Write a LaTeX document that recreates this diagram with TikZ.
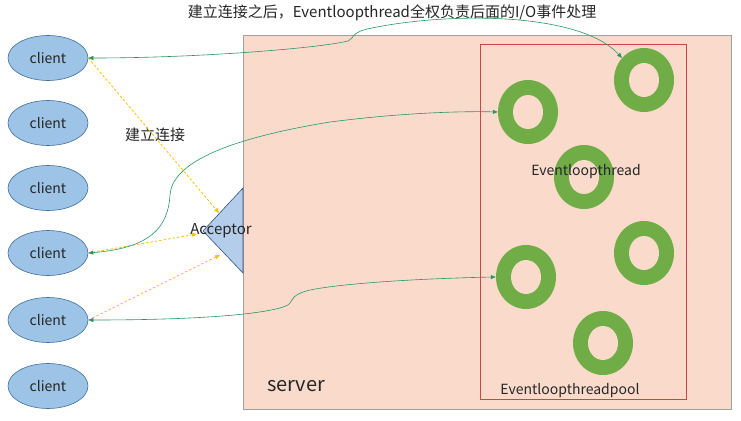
\documentclass[tikz,border=0pt]{standalone}
\usepackage{fontspec}
\setmainfont{Noto Sans CJK SC}
\usetikzlibrary{arrows.meta,shapes.geometric}
\definecolor{clientfill}{RGB}{157,195,230}
\definecolor{clientdraw}{RGB}{65,113,156}
\definecolor{serverfill}{RGB}{250,219,203}
\definecolor{serverdraw}{RGB}{160,160,160}
\definecolor{poolred}{RGB}{205,70,70}
\definecolor{ringgreen}{RGB}{112,173,71}
\definecolor{linkgreen}{RGB}{40,150,100}
\definecolor{dashyellow}{RGB}{255,192,0}
\definecolor{accfill}{RGB}{180,205,235}
\definecolor{accdraw}{RGB}{50,80,130}
\tikzset{
  client/.style={ellipse,draw=clientdraw,fill=clientfill,line width=0.6pt,minimum width=80pt,minimum height=45pt,inner sep=0pt,font=\fontsize{14pt}{16pt}\selectfont,text=black!85},
  ring/.style={ellipse,fill=ringgreen,minimum width=60pt,minimum height=64pt,inner sep=0pt,
    path picture={\fill[serverfill] (path picture bounding box.center) ellipse (15pt and 17pt);}},
  greenlink/.style={draw=linkgreen,line width=0.6pt,{Triangle[length=5pt,width=4pt]}-{Triangle[length=5pt,width=4pt]}},
  yellowlink/.style={draw=dashyellow,line width=0.8pt,dash pattern=on 2.5pt off 2pt,-{Triangle[length=5pt,width=4pt]}},
  lbl/.style={inner sep=0pt,font=\fontsize{14pt}{16pt}\selectfont,text=black!85}
}
\begin{document}
\begin{tikzpicture}[x=1pt,y=-1pt]
\useasboundingbox (0,0) rectangle (741,420);
\fill[white] (0,0) rectangle (741,420);
% server
\node[draw=serverdraw,fill=serverfill,line width=0.8pt,minimum width=488pt,minimum height=374pt,inner sep=0pt] (server) at (487,222) {};
\node[inner sep=0pt,font=\fontsize{20pt}{22pt}\selectfont,text=black!85] (serverlbl) at (296,386) {server};
% pool
\node[draw=poolred,line width=0.7pt,minimum width=206pt,minimum height=355pt,inner sep=0pt] (pool) at (583,221.5) {};
% rings
\node[ring] (r1) at (644,80) {};
\node[ring] (r2) at (528,112) {};
\node[ring] (r3) at (584,177) {};
\node[ring] (r4) at (644,253) {};
\node[ring] (r5) at (526,277) {};
\node[ring] (r6) at (603,343) {};
\node[lbl] (elt) at (586,172) {Eventloopthread};
\node[lbl] (eltp) at (570,391) {Eventloopthreadpool};
% acceptor
\draw[draw=accdraw,fill=accfill,line width=0.6pt] (243,188) -- (203,231) -- (243,273) -- cycle;
\node[inner sep=0pt,font=\fontsize{15pt}{17pt}\selectfont,text=black!85] (acc) at (221,231) {Acceptor};
\coordinate (a1) at (219,213);
\coordinate (a2) at (197,234);
\coordinate (a3) at (220,255);
% clients
\node[client] (c1) at (48,58) {client};
\node[client] (c2) at (48,123) {client};
\node[client] (c3) at (48,188) {client};
\node[client] (c4) at (48,253) {client};
\node[client] (c5) at (48,320) {client};
\node[client] (c6) at (48,386) {client};
% titles
\node[inner sep=0pt,font=\fontsize{15pt}{17pt}\selectfont,text=black!85] (title) at (392,13) {建立连接之后，Eventloopthread全权负责后面的I/O事件处理};
\node[inner sep=0pt,font=\fontsize{15pt}{17pt}\selectfont,text=black!85] (conn) at (155,135) {建立连接};
% yellow dashed
\draw[yellowlink] (c1.east) -- (a1);
\draw[yellowlink] (c4.east) -- (a2);
\draw[yellowlink] (c5.east) -- (a3);
% green links
\draw[greenlink] (c1.east) .. controls (200,58) and (320,48) .. (348,41) .. controls (354,39) and (350,32) .. (372,28) .. controls (450,12) and (580,12) .. (r1.135);
\draw[greenlink] (c4.east) .. controls (150,248) and (168,228) .. (170,195) .. controls (172,165) and (220,140) .. (330,122) .. controls (400,113) and (460,111) .. (r2.west);
\draw[greenlink] (c5.east) .. controls (200,320) and (270,314) .. (288,305) .. controls (294,300) and (290,295) .. (310,290) .. controls (350,282) and (440,278) .. (r5.west);
\end{tikzpicture}
\end{document}
